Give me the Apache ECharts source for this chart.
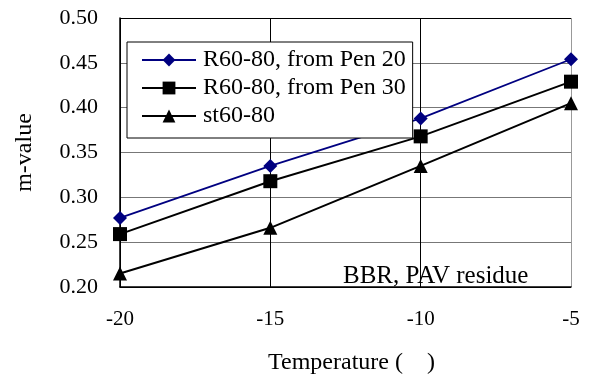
<!DOCTYPE html>
<html>
<head>
<meta charset="utf-8">
<script src="https://cdn.jsdelivr.net/npm/echarts@6/dist/echarts.min.js"></script>
<style>
  html, body { margin: 0; padding: 0; background: #fff; }
  #chart { width: 612px; height: 380px; }
</style>
</head>
<body>
<div id="chart"></div>
<script>
// Temperatures (°C) and m-values for each binder
const temperatures = [-20, -15, -10, -5];
const seriesNames = ['R60-80, from Pen 20', 'R60-80, from Pen 30', 'st60-80'];
const pen20Values = [0.277, 0.335, 0.388, 0.454];
const pen30Values = [0.259, 0.318, 0.368, 0.429];
const st6080Values = [0.215, 0.266, 0.335, 0.405];
const yTicks = [0.20, 0.25, 0.30, 0.35, 0.40, 0.45, 0.50];

const serif = "'Liberation Serif', 'Times New Roman', serif";

function pairs(values) {
  return temperatures.map((t, i) => [t, values[i]]);
}

const chart = echarts.init(document.getElementById('chart'), null, { renderer: 'canvas' });

chart.setOption({
  animation: false,
  backgroundColor: '#fff',
  grid: { left: 120, right: 41, top: 18, bottom: 91, containLabel: false },
  xAxis: {
    type: 'value',
    min: -20, max: -5, interval: 5,
    name: 'Temperature (    )',
    nameLocation: 'middle',
    nameGap: 64,
    nameTextStyle: { fontFamily: serif, fontSize: 24, color: '#000', padding: [0, 0, 0, 12] },
    axisLine: { show: true, onZero: false, lineStyle: { color: '#000', width: 1.5 } },
    axisTick: { show: false },
    axisLabel: { margin: 22, fontFamily: serif, fontSize: 21, color: '#000' },
    splitLine: { show: true, lineStyle: { color: ['#000', '#000', '#000', '#999'], width: 1 } }
  },
  yAxis: {
    type: 'value',
    min: yTicks[0], max: yTicks[yTicks.length - 1], interval: 0.05,
    name: 'm-value',
    nameLocation: 'middle',
    nameGap: 83,
    nameRotate: 90,
    nameTextStyle: { fontFamily: serif, fontSize: 24, color: '#000' },
    axisLine: { show: true, onZero: false, lineStyle: { color: '#000', width: 1.5 } },
    axisTick: { show: false },
    axisLabel: {
      margin: 22, fontFamily: serif, fontSize: 22, color: '#000',
      formatter: v => v.toFixed(2)
    },
    splitLine: { show: true, lineStyle: { color: ['#000', '#777', '#777', '#777', '#777', '#777', '#000'], width: 1 } }
  },
  legend: {
    orient: 'vertical',
    left: 127, top: 42,
    data: seriesNames,
    backgroundColor: '#fff',
    borderColor: '#000',
    borderWidth: 1,
    borderRadius: 0,
    padding: [6, 7, 10, 14],
    itemGap: 4,
    itemWidth: 54,
    itemHeight: 16,
    textStyle: { fontFamily: serif, fontSize: 24, color: '#000', padding: [0, 0, 0, 2] }
  },
  graphic: [{
    type: 'text',
    left: 343, top: 264,
    style: { text: 'BBR, PAV residue', fontFamily: serif, fontSize: 25, fill: '#000' }
  }],
  series: [
    {
      name: seriesNames[0], type: 'line', data: pairs(pen20Values),
      symbol: 'diamond', symbolSize: 14,
      itemStyle: { color: '#000080' },
      lineStyle: { color: '#000080', width: 1.8 }
    },
    {
      name: seriesNames[1], type: 'line', data: pairs(pen30Values),
      symbol: 'rect', symbolSize: 14,
      itemStyle: { color: '#000' },
      lineStyle: { color: '#000', width: 2 }
    },
    {
      name: seriesNames[2], type: 'line', data: pairs(st6080Values),
      symbol: 'triangle', symbolSize: 14,
      itemStyle: { color: '#000' },
      lineStyle: { color: '#000', width: 2 }
    }
  ]
});
</script>
</body>
</html>
